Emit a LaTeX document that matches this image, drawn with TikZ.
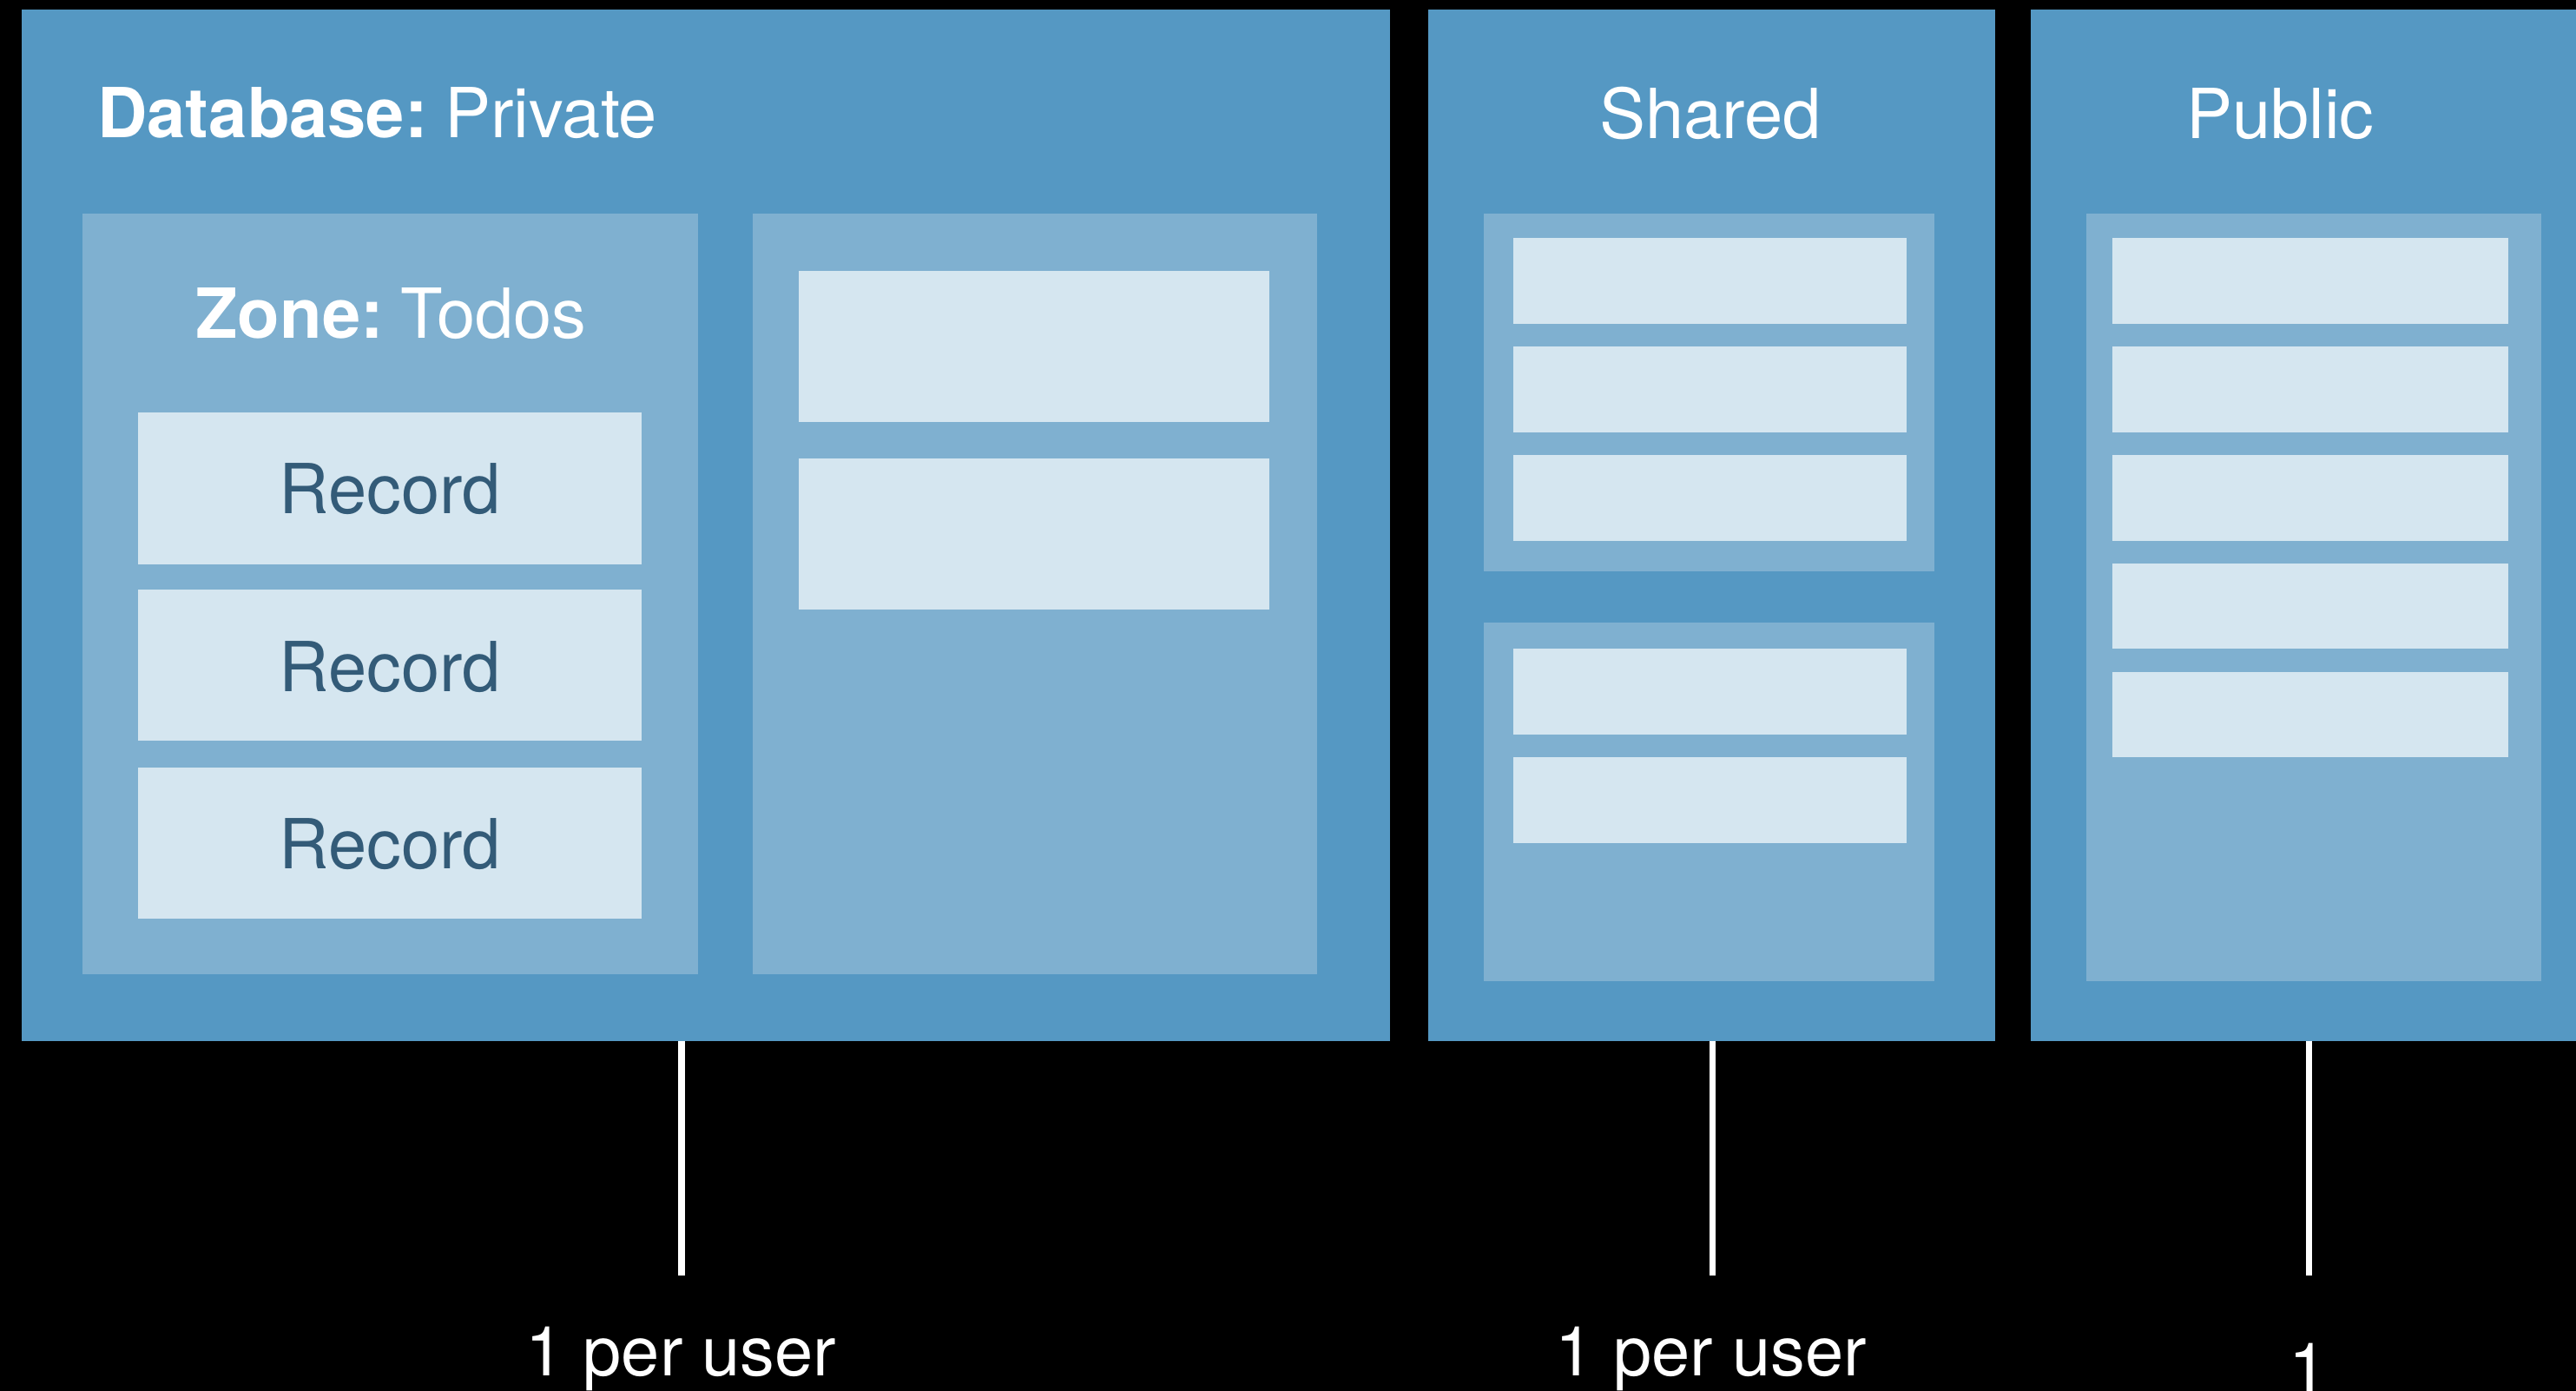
\documentclass[tikz,border=0pt]{standalone}
\usepackage{fontspec}
\setmainfont{TeX Gyre Heros}
\definecolor{dbblue}{HTML}{5598C3}
\definecolor{zoneblue}{HTML}{7FB0D0}
\definecolor{recblue}{HTML}{D5E6F0}
\definecolor{rectext}{HTML}{335B78}
\newcommand\mybox[6]{\node[#2, anchor=north west, minimum width={(#5-#3)*0.5pt}, minimum height={(#6-#4)*0.5pt}] (#1) at (#3,#4) {};}
\tikzset{
  base/.style={inner sep=0pt, outer sep=0pt, draw=none},
  dbbox/.style={base, fill=dbblue},
  zonebox/.style={base, fill=zoneblue},
  recbox/.style={base, fill=recblue},
  wtxt/.style={inner sep=0pt, text=white, font=\fontsize{21}{25}\selectfont},
  rtxt/.style={inner sep=0pt, text=rectext, font=\fontsize{21}{25}\selectfont},
  wline/.style={draw=white, line width=2pt}
}
\begin{document}
\begin{tikzpicture}[x=0.5pt, y=-0.5pt]
\fill[black] (0,0) rectangle (1568,846.6);
\useasboundingbox (0,0) rectangle (1568,846.6);
% databases
\mybox{priv}{dbbox}{13}{6}{846}{633.5}
\mybox{shar}{dbbox}{869.5}{6}{1214.5}{633.5}
\mybox{publ}{dbbox}{1236}{6}{1568}{633.5}
% private zones
\mybox{zt}{zonebox}{50}{130}{425}{593}
\mybox{z2}{zonebox}{458}{130}{801.5}{593}
\mybox{r1}{recbox}{84}{251}{390.5}{343.5}
\mybox{r2}{recbox}{84}{359}{390.5}{451}
\mybox{r3}{recbox}{84}{467}{390.5}{559}
\mybox{z2a}{recbox}{486}{165}{772.5}{257}
\mybox{z2b}{recbox}{486}{279}{772.5}{371}
% shared zones
\mybox{sz1}{zonebox}{903}{130}{1177.5}{347.5}
\mybox{sz2}{zonebox}{903}{379}{1177.5}{597}
\mybox{s1}{recbox}{921}{145}{1160.5}{197}
\mybox{s2}{recbox}{921}{211}{1160.5}{263}
\mybox{s3}{recbox}{921}{277}{1160.5}{329}
\mybox{s4}{recbox}{921}{395}{1160.5}{447}
\mybox{s5}{recbox}{921}{461}{1160.5}{513}
% public zone
\mybox{pz}{zonebox}{1270}{130}{1547}{597}
\mybox{p1}{recbox}{1286}{145}{1526.5}{197}
\mybox{p2}{recbox}{1286}{211}{1526.5}{263}
\mybox{p3}{recbox}{1286}{277}{1526.5}{329}
\mybox{p4}{recbox}{1286}{343}{1526.5}{395}
\mybox{p5}{recbox}{1286}{409}{1526.5}{461}
% titles
\node[wtxt, anchor=base west] (tpriv) at (59,84) {\textbf{Database:}\hspace{-0.12em} Private};
\node[wtxt, anchor=base] (tzone) at (238,206) {\textbf{Zone:}\hspace{-0.12em} Todos};
\node[wtxt, anchor=base] (tshar) at (1041,84.4) {Shared};
\node[wtxt, anchor=base] (tpubl) at (1388,84.4) {Public};
\node[rtxt, anchor=base] (tr1) at (237.5,312.7) {Record};
\node[rtxt, anchor=base] (tr2) at (237.5,420.7) {Record};
\node[rtxt, anchor=base] (tr3) at (237.5,528.7) {Record};
% connectors
\coordinate (e1) at (415,776.5);
\coordinate (e2) at (1042.5,776.5);
\coordinate (e3) at (1405.5,776.5);
\draw[wline] (priv.south -| e1) -- (e1);
\draw[wline] (shar.south -| e2) -- (e2);
\draw[wline] (publ.south -| e3) -- (e3);
\node[wtxt, anchor=base] (l1) at (414.5,837.6) {1 per user};
\node[wtxt, anchor=base] (l2) at (1041.5,837.6) {1 per user};
\node[wtxt, anchor=base] (l3) at (1405,847.5) {1};
\end{tikzpicture}
\end{document}
